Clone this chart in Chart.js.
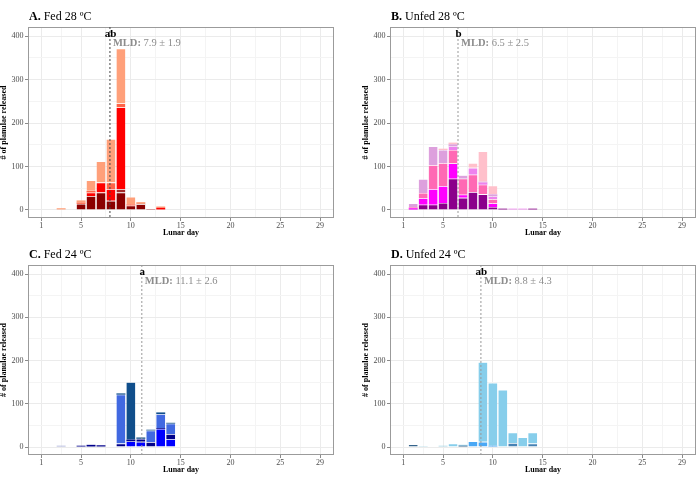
<!DOCTYPE html>
<html>
<head>
<meta charset="utf-8">
<script src="https://cdn.jsdelivr.net/npm/chart.js@4.4.1/dist/chart.umd.min.js"></script>
<style>
  body { margin: 0; background: #fff; }
  #grid { display: grid; grid-template-columns: 349px 349px; grid-template-rows: 243px 243px; width: 698px; height: 486px; }
  canvas { display: block; }
</style>
</head>
<body>
<div id="grid">
  <canvas id="panelA" width="349" height="243"></canvas>
  <canvas id="panelB" width="349" height="243"></canvas>
  <canvas id="panelC" width="349" height="243"></canvas>
  <canvas id="panelD" width="349" height="243"></canvas>
</div>
<script>
// axis ticks
const majorDays = [1, 5, 10, 15, 20, 25, 29];
const minorDays = [3, 7.5, 12.5, 17.5, 22.5, 27];
const majorCounts = [0, 100, 200, 300, 400];
const minorCounts = [50, 150, 250, 350];

// A. Fed 28 ºC  (one array per colony, bottom to top)
const daysA = [3, 5, 6, 7, 8, 9, 10, 11, 12, 13];
const fed28c1 = [null, 14, 32, 40, 21, 40, 10, 13, null, null];
const fed28c2 = [null, null, null, null, null, 8, null, 1, 2, null];
const fed28c3 = [null, null, 8, 23, 27, 188, null, null, null, 5];
const fed28c4 = [null, 3, 4, null, 15, 9, 3, null, null, null];
const fed28c5 = [4, 5, 24, 49, 100, 126, 17, 4, null, 3];

// B. Unfed 28 ºC
const daysB = [2, 3, 4, 5, 6, 7, 8, 9, 10, 11, 12, 13, 14];
const unfed28c1 = [1, 12, 12, 16, 72, 28, 41, 36, 7, 3, null, null, 3];
const unfed28c2 = [3, 15, 36, 39, 35, 7, null, null, 8, null, null, null, null];
const unfed28c3 = [2, 12, 55, 53, 31, 37, 40, 22, 10, null, null, null, null];
const unfed28c4 = [null, null, null, null, 8, null, 16, 5, 6, null, 3, 3, null];
const unfed28c5 = [9, 32, 43, 30, 5, 8, null, 2, 5, null, null, null, null];
const unfed28c6 = [null, null, null, 3, 4, null, 11, 70, 20, null, null, null, null];

// C. Fed 24 ºC
const daysC = [3, 5, 6, 7, 9, 10, 11, 12, 13, 14];
const fed24c1 = [null, null, null, null, null, 13, 12, null, 42, 18];
const fed24c2 = [null, 3, 5, 4, 8, 4, 7, 11, 2, 12];
const fed24c3 = [null, null, null, null, 113, null, null, 27, 32, 24];
const fed24c4 = [null, null, null, null, 3, 133, 3, 2, 4, 2];
const fed24c5 = [3, null, null, null, null, null, null, null, null, null];

// D. Unfed 24 ºC
const daysD = [2, 3, 5, 6, 7, 8, 9, 10, 11, 12, 13, 14];
const unfed24c1 = [6, null, null, null, 3, null, null, null, null, null, null, null];
const unfed24c2 = [null, null, null, null, null, null, null, null, null, 9, null, 8];
const unfed24c3 = [null, null, null, null, null, 13, 12, 3, null, null, null, null];
const unfed24c4 = [null, 2, 3, null, null, null, null, null, null, null, null, null];
const unfed24c5 = [null, null, null, 8, 2, null, 184, 145, 132, 24, 22, 25];

// mean lunar day of release and significance letters
const mldValues = [7.9, 6.5, 11.1, 8.8];
const mldSd = [1.9, 2.5, 2.6, 4.3];
const mldLetters = ['ab', 'b', 'a', 'ab'];

const serif = '"Liberation Serif", "Times New Roman", serif';

const decor = {
    id: 'decor',
    afterDraw(chart, args, o) {
        const { ctx, chartArea: a, scales: { x, y } } = chart;
        ctx.save();
        ctx.strokeStyle = '#9b9b9b';
        ctx.lineWidth = 1;
        ctx.strokeRect(a.left + 0.5, a.top + 0.5, a.width - 1, a.height - 1);

        const lx = x.getPixelForValue(o.mld);
        ctx.setLineDash([2, 2]);
        ctx.strokeStyle = o.lineColor;
        ctx.beginPath();
        ctx.moveTo(lx, a.top);
        ctx.lineTo(lx, a.bottom);
        ctx.stroke();
        ctx.setLineDash([]);

        ctx.textBaseline = 'alphabetic';
        ctx.fillStyle = '#000';
        ctx.textAlign = 'center';
        ctx.font = 'bold 11px ' + serif;
        ctx.fillText(o.letter, lx + 0.5, y.getPixelForValue(398));

        ctx.textAlign = 'left';
        ctx.fillStyle = '#8c8c8c';
        const ty = y.getPixelForValue(377);
        ctx.font = 'bold 10.5px ' + serif;
        ctx.fillText('MLD:', lx + 3, ty);
        const w = ctx.measureText('MLD:').width;
        ctx.font = '10.5px ' + serif;
        ctx.fillText(' ' + o.mld + ' \u00b1 ' + o.sd, lx + 3 + w, ty);

        ctx.fillStyle = '#000';
        ctx.font = 'bold 12px ' + serif;
        ctx.fillText(o.tag, a.left + 1, a.top - 7);
        const tw = ctx.measureText(o.tag).width;
        ctx.font = '12px ' + serif;
        ctx.fillText(' ' + o.title, a.left + 1 + tw, a.top - 7);
        ctx.restore();
    }
};

function makePanel(id, days, series, colors, frame, info) {
    const datasets = series.map((vals, i) => ({
        label: 'colony ' + (i + 1),
        data: days.map((d, j) => ({ x: d, y: vals[j] })),
        backgroundColor: colors[i],
        borderColor: 'rgba(255,255,255,0.6)',
        // thin white separator on top of a segment, skipped on tiny ones
        borderWidth: c => (c.raw && c.raw.y >= 6) ? { top: 0.6, left: 0, right: 0, bottom: 0 } : 0,
        barPercentage: 0.9,
        categoryPercentage: 1
    }));
    new Chart(document.getElementById(id), {
        type: 'bar',
        data: { datasets },
        plugins: [decor],
        options: {
            responsive: false,
            animation: false,
            layout: { padding: { left: frame.padLeft, top: frame.top, right: 349 - frame.right, bottom: 243 - frame.bottom - 19 } },
            plugins: {
                legend: { display: false },
                tooltip: { enabled: false },
                decor: info
            },
            scales: {
                x: {
                    type: 'linear',
                    min: -0.33,
                    max: 30.4,
                    stacked: true,
                    offset: false,
                    afterBuildTicks: s => {
                        s.ticks = majorDays.concat(minorDays).sort((p, q) => p - q).map(v => ({ value: v }));
                    },
                    afterFit: s => { s.height = 19; },
                    ticks: {
                        autoSkip: false, maxRotation: 0, minRotation: 0, padding: 1,
                        color: '#4d4d4d', font: { family: serif, size: 8, lineHeight: 1 },
                        callback: v => majorDays.includes(v) ? String(v) : ''
                    },
                    grid: {
                        offset: false,
                        tickLength: 3,
                        color: c => (c.tick && majorDays.includes(c.tick.value)) ? '#ebebeb' : '#f4f4f4',
                        tickColor: c => (c.tick && majorDays.includes(c.tick.value)) ? '#8a8a8a' : 'rgba(0,0,0,0)'
                    },
                    border: { display: false },
                    title: { display: true, text: 'Lunar day', color: '#000', padding: 0,
                             font: { family: serif, size: 8, weight: 'bold', lineHeight: 1 } }
                },
                y: {
                    min: -18.5,
                    max: 421,
                    stacked: true,
                    afterBuildTicks: s => {
                        s.ticks = majorCounts.concat(minorCounts).sort((p, q) => p - q).map(v => ({ value: v }));
                    },
                    afterFit: s => { s.width = frame.left - frame.padLeft; },
                    ticks: {
                        padding: 1.5,
                        color: '#4d4d4d', font: { family: serif, size: 8, lineHeight: 1 },
                        callback: v => majorCounts.includes(v) ? String(v) : ''
                    },
                    grid: {
                        tickLength: 3,
                        color: c => (c.tick && majorCounts.includes(c.tick.value)) ? '#ebebeb' : '#f4f4f4',
                        tickColor: c => (c.tick && majorCounts.includes(c.tick.value)) ? '#8a8a8a' : 'rgba(0,0,0,0)'
                    },
                    border: { display: false },
                    title: { display: true, text: '# of planulae released', color: '#000', padding: 0,
                             font: { family: serif, size: 8, weight: 'bold', lineHeight: 1 } }
                }
            }
        }
    });
}

makePanel('panelA', daysA, [fed28c1, fed28c2, fed28c3, fed28c4, fed28c5],
    ['#8B0000', '#A52A2A', '#FF0000', '#FF6347', '#FFA07A'],
    { padLeft: 0, left: 28, top: 27, right: 334, bottom: 218 },
    { tag: 'A.', title: 'Fed 28 \u00baC', mld: mldValues[0], sd: mldSd[0], letter: mldLetters[0], lineColor: '#444' });

makePanel('panelB', daysB, [unfed28c1, unfed28c2, unfed28c3, unfed28c4, unfed28c5, unfed28c6],
    ['#8B008B', '#FF00FF', '#FF69B4', '#EE82EE', '#DDA0DD', '#FFC0CB'],
    { padLeft: 13, left: 41, top: 27, right: 347, bottom: 218 },
    { tag: 'B.', title: 'Unfed 28 \u00baC', mld: mldValues[1], sd: mldSd[1], letter: mldLetters[1], lineColor: '#999' });

makePanel('panelC', daysC, [fed24c1, fed24c2, fed24c3, fed24c4, fed24c5],
    ['#0000FF', '#00008B', '#4169E1', '#104E8B', '#AAB0DA'],
    { padLeft: 0, left: 28, top: 22, right: 334, bottom: 212 },
    { tag: 'C.', title: 'Fed 24 \u00baC', mld: mldValues[2], sd: mldSd[2], letter: mldLetters[2], lineColor: '#999' });

makePanel('panelD', daysD, [unfed24c1, unfed24c2, unfed24c3, unfed24c4, unfed24c5],
    ['#36648B', '#4682B4', '#4AA8F5', '#ADD8E6', '#87CEEB'],
    { padLeft: 13, left: 41, top: 22, right: 347, bottom: 212 },
    { tag: 'D.', title: 'Unfed 24 \u00baC', mld: mldValues[3], sd: mldSd[3], letter: mldLetters[3], lineColor: '#999' });
</script>
</body>
</html>
